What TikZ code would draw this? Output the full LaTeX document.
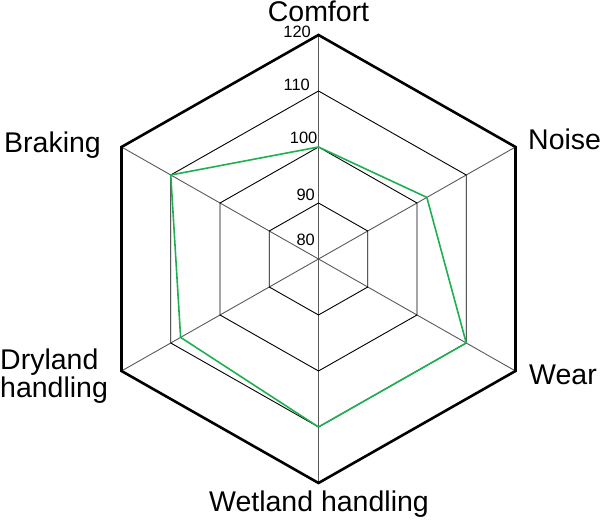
\documentclass[tikz,border=0pt]{standalone}
\usepackage{fontspec}
\setmainfont{Liberation Sans}
\definecolor{tyregreen}{RGB}{30,175,80}

\begin{document}
\begin{tikzpicture}[x=1bp,y=1bp,font=\fontsize{28.6}{29}\selectfont,
  ring/.style={line width=0.9bp},
  spoke/.style={line width=0.9bp,black!65},
  tyre/.style={line width=1.6bp,tyregreen,line join=round},
  tick/.style={font=\fontsize{16.5}{16.5}\selectfont,anchor=base east,inner sep=0pt},
  axis/.style={inner sep=0pt}]
\useasboundingbox (0,0) rectangle (600,520);
\coordinate (O) at (318.5,261);
\begin{scope}[shift={(O)},xscale=1.0155]
\def\R{224}
\foreach \a in {90,30,-30,-90,-150,150} \draw[spoke] (0,0)--(\a:\R);
\foreach \r in {56,112,168} \draw[ring] (90:\r)--(30:\r)--(-30:\r)--(-90:\r)--(-150:\r)--(150:\r)--cycle;
\draw[line width=2.6bp] (90:\R)--(30:\R)--(-30:\R)--(-90:\R)--(-150:\R)--(150:\R)--cycle;
% values 100,102,110,110,108,110 -> (v-80)*5.6
\draw[tyre] (90:112)--(30:123.2)--(-30:168)--(-90:168)--(-150:156.8)--(150:168)--cycle;
\end{scope}
\node[tick] (t120) at (311,482){120};
\node[tick] (t110) at (310,429.3){110};
\node[tick] (t100) at (317.5,376.7){100};
\node[tick] (t90) at (315,319.3){90};
\node[tick] (t80) at (315,274){80};
\node[axis,anchor=base] (comfort) at (318.5,498){Comfort};
\node[axis,anchor=base west] (noise) at (528,370){Noise};
\node[axis,anchor=base west] (wear) at (529,135){Wear};
\node[axis,anchor=base] (wetland) at (319,8){Wetland handling};
\node[axis,anchor=base west,align=left] (dryland) at (0,122){Dryland\\handling};
\node[axis,anchor=base east] (braking) at (101,367){Braking};
\end{tikzpicture}
\end{document}
